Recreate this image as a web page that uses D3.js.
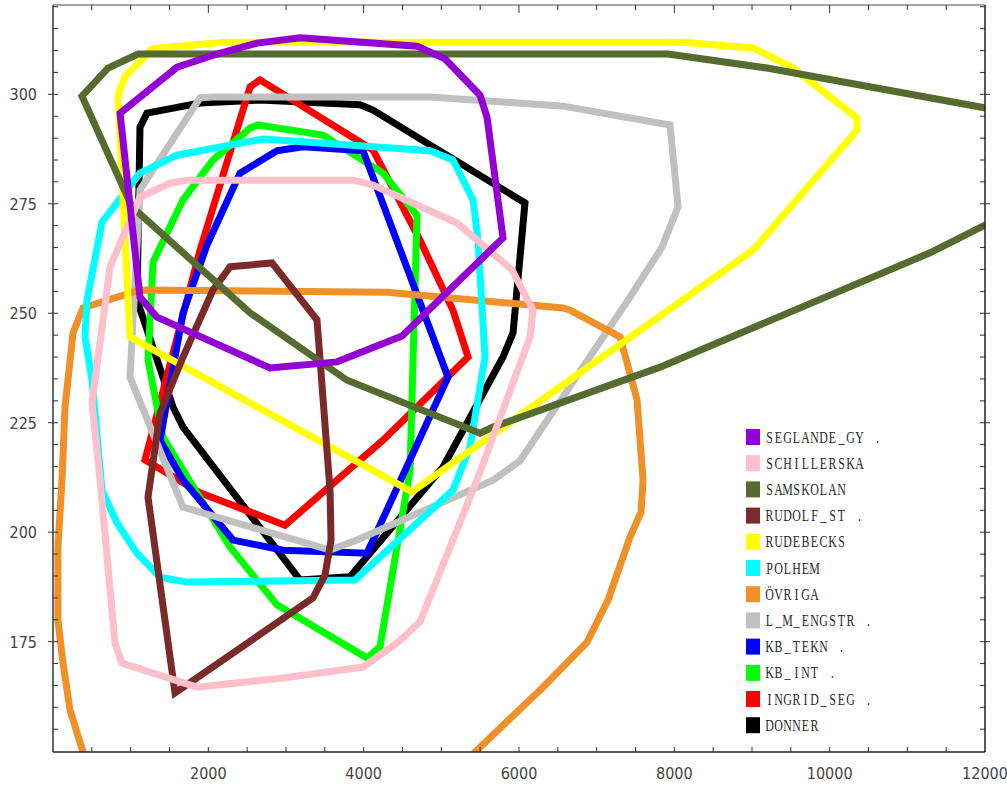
<!DOCTYPE html>
<html><head><meta charset="utf-8">
<script src="https://cdn.jsdelivr.net/npm/d3@7"></script>
<style>
body{margin:0;background:#fff;}
svg{display:block;}
.tick-label{font-family:"DejaVu Sans Condensed","Liberation Sans Narrow","DejaVu Sans",sans-serif;font-size:16px;fill:#444;}
.leg{font-family:"Liberation Serif","DejaVu Serif",serif;font-size:16.5px;fill:#2a2a2a;}
</style></head>
<body>
<svg id="chart" width="1007" height="787"></svg>
<script>
// ---- data (x value, y value) ----
const seriesNames = ["SEGLANDE_GY .","SCHILLERSKA","SAMSKOLAN","RUDOLF_ST .","RUDEBECKS","POLHEM","ÖVRIGA","L_M_ENGSTR .","KB_TEKN .","KB_INT .","INGRID_SEG .","DONNER"];
const seriesColors = ["#9400D3","#FFC0CB","#556B2F","#7B2A2A","#FFFF00","#00FFFF","#EF9128","#C0C0C0","#0000FF","#00FF00","#FF0000","#000000"];

const SEGLANDE_GY = [[3180,312.9],[4687,311.0],[5047,308.1],[5498,299.8],[5588,294.8],[5794,267.2],[4494,244.8],[3657,238.9],[2794,237.5],[1339,249.1],[1120,253.7],[863,295.7],[1597,306.2],[2112,309.2],[2627,311.7]];
const SCHILLERSKA = [[1725,280.4],[3863,280.4],[4120,279.3],[5202,270.6],[5910,259.9],[6180,250.7],[6142,244.6],[5459,211.9],[4725,179.5],[4429,174.7],[3992,169.2],[2961,166.7],[1854,164.6],[888,170.1],[798,174.7],[605,211.9],[502,229.5],[734,260.6],[1120,276.5],[1507,279.7]];
const SAMSKOLAN = [[373,299.6],[1017,274.3],[2537,250.1],[3786,234.7],[5498,222.6],[5665,224.0],[7816,237.7],[11292,263.8],[13481,283.4],[13481,292.1],[9193,306.0],[7919,309.2],[1094,309.2],[708,306.0]];
const RUDOLF_ST = [[2279,260.6],[2820,261.5],[3399,248.5],[3567,209.6],[3580,198.2],[3502,190.2],[3348,185.0],[1571,163.3],[1223,208.0],[1378,227.2],[1674,240.0],[2060,255.3]];
const RUDEBECKS = [[1275,310.4],[2189,311.9],[8112,311.9],[9013,310.6],[9515,306.2],[10352,294.6],[10352,291.8],[9013,264.4],[4622,209.2],[991,244.6],[837,299.8],[927,304.0]];
const POLHEM = [[2704,289.8],[4854,287.1],[5150,285.0],[5408,275.9],[5472,266.7],[5562,240.0],[5369,219.4],[5150,209.6],[3889,189.1],[1725,188.6],[1378,189.7],[1082,195.2],[824,202.1],[631,209.6],[502,234.8],[412,244.6],[438,253.0],[631,270.8],[1120,282.0],[1597,286.1]];
const OVRIGA = [[1159,255.3],[4301,254.8],[6567,251.2],[6657,250.7],[7301,244.6],[7520,230.2],[7597,211.9],[7571,204.6],[7429,198.9],[7146,184.5],[6876,174.9],[6309,164.6],[5459,150.2],[4841,138.8],[579,138.8],[386,149.8],[219,159.4],[129,170.1],[64,179.9],[64,196.6],[116,211.9],[155,228.6],[258,245.5],[386,251.2],[1030,254.8]];
const L_M_ENGSTR = [[1893,299.2],[2060,299.4],[4854,299.4],[6567,297.3],[7944,293.0],[8048,274.3],[7841,265.1],[7429,253.7],[6013,216.3],[5665,211.9],[3914,198.2],[3567,195.9],[1674,205.7],[991,235.4],[1120,278.2]];
const KB_TEKN = [[2884,287.1],[3219,288.0],[3992,287.1],[5086,235.4],[4043,195.2],[2961,195.9],[2318,198.2],[1674,211.9],[1378,221.0],[1674,250.1],[1983,265.6],[2408,282.0]];
const KB_INT = [[2640,293.0],[3477,290.7],[4249,282.0],[4687,272.4],[4597,214.2],[4210,173.8],[4043,171.3],[2884,183.4],[2279,196.6],[1416,221.7],[1223,239.3],[1288,261.7],[1674,275.9],[2060,285.0],[2537,292.3]];
const INGRID_SEG = [[2665,303.3],[4120,287.3],[4725,266.7],[5150,250.7],[5344,240.0],[4249,221.0],[2987,201.6],[1893,209.0],[1185,216.5],[1893,264.4],[2537,301.7]];
const DONNER = [[1210,295.7],[1893,298.0],[2665,298.7],[3953,297.6],[4120,296.4],[6077,275.2],[5923,245.5],[5794,240.0],[5022,214.9],[3824,189.8],[3180,189.1],[1674,224.0],[1545,228.6],[1082,253.0],[1120,292.5]];

const seriesData = [SEGLANDE_GY,SCHILLERSKA,SAMSKOLAN,RUDOLF_ST,RUDEBECKS,POLHEM,OVRIGA,L_M_ENGSTR,KB_TEKN,KB_INT,INGRID_SEG,DONNER];

const xTickLabels = [2000,4000,6000,8000,10000,12000];
const yTickLabels = [175,200,225,250,275,300];
const xDomain = [0,12000];
const yDomain = [149.8,320.4];

// ---- drawing ----
const svg = d3.select("#chart");
const L=53, R=985, T=5, B=752;
const x = d3.scaleLinear().domain(xDomain).range([L,R]);
const y = d3.scaleLinear().domain(yDomain).range([B,T]);

svg.append("clipPath").attr("id","clip").append("rect")
  .attr("x",L).attr("y",T).attr("width",R-L).attr("height",B-T);

const line = d3.line().x(d=>x(d[0])).y(d=>y(d[1])).curve(d3.curveLinearClosed);
const g = svg.append("g").attr("clip-path","url(#clip)");
for(let i=seriesData.length-1;i>=0;i--){
  g.append("path").attr("d",line(seriesData[i]))
    .attr("fill","none").attr("stroke",seriesColors[i])
    .attr("stroke-width",7).attr("stroke-linejoin","miter").attr("stroke-miterlimit",3);
}

// frame
svg.append("line").attr("x1",L).attr("x2",R).attr("y1",T).attr("y2",T).attr("stroke","#888").attr("stroke-width",1.5);
svg.append("line").attr("x1",R).attr("x2",R).attr("y1",T).attr("y2",B).attr("stroke","#222").attr("stroke-width",1.5);
svg.append("line").attr("x1",L).attr("x2",L).attr("y1",T).attr("y2",B).attr("stroke","#333").attr("stroke-width",1.5);
svg.append("line").attr("x1",L).attr("x2",R).attr("y1",B).attr("y2",B).attr("stroke","#222").attr("stroke-width",1.5);

// ticks
const xt = d3.range(500,12000,500);
xt.forEach(v=>{
  const major = v%2000===0;
  svg.append("line").attr("x1",x(v)).attr("x2",x(v)).attr("y1",B).attr("y2",B-5).attr("stroke","#333");
  svg.append("line").attr("x1",x(v)).attr("x2",x(v)).attr("y1",T).attr("y2",T+(major?8:5)).attr("stroke","#333");
});
const yt = d3.range(155,321,5);
yt.forEach(v=>{
  const major = v%25===0;
  svg.append("line").attr("x1",L-(major?5:0)).attr("x2",L+5).attr("y1",y(v)).attr("y2",y(v)).attr("stroke","#333");
  svg.append("line").attr("x1",R-5).attr("x2",R+(major?5:0)).attr("y1",y(v)).attr("y2",y(v)).attr("stroke","#333");
});

xTickLabels.forEach(v=>{
  svg.append("text").attr("class","tick-label").attr("x",x(v)).attr("y",779)
    .attr("text-anchor","middle").text(v);
});
yTickLabels.forEach(v=>{
  svg.append("text").attr("class","tick-label").attr("x",37).attr("y",y(v)+6)
    .attr("text-anchor","end").text(v);
});

// legend (typewriter look: each character on a 9px grid, glyphs narrowed)
const sx = 0.72;
seriesNames.forEach((n,i)=>{
  const cy = 437 + i*26.2;
  svg.append("rect").attr("x",746).attr("y",cy-8).attr("width",14).attr("height",16).attr("fill",seriesColors[i]);
  const t = svg.append("text").attr("class","leg")
    .attr("transform",`translate(765,${cy+5.5}) scale(${sx},1)`)
    .attr("text-anchor","middle");
  Array.from(n).forEach((ch,k)=>{
    t.append("tspan").attr("x",(k*9+4.5)/sx).attr("y",0).text(ch);
  });
});
</script>
</body></html>
